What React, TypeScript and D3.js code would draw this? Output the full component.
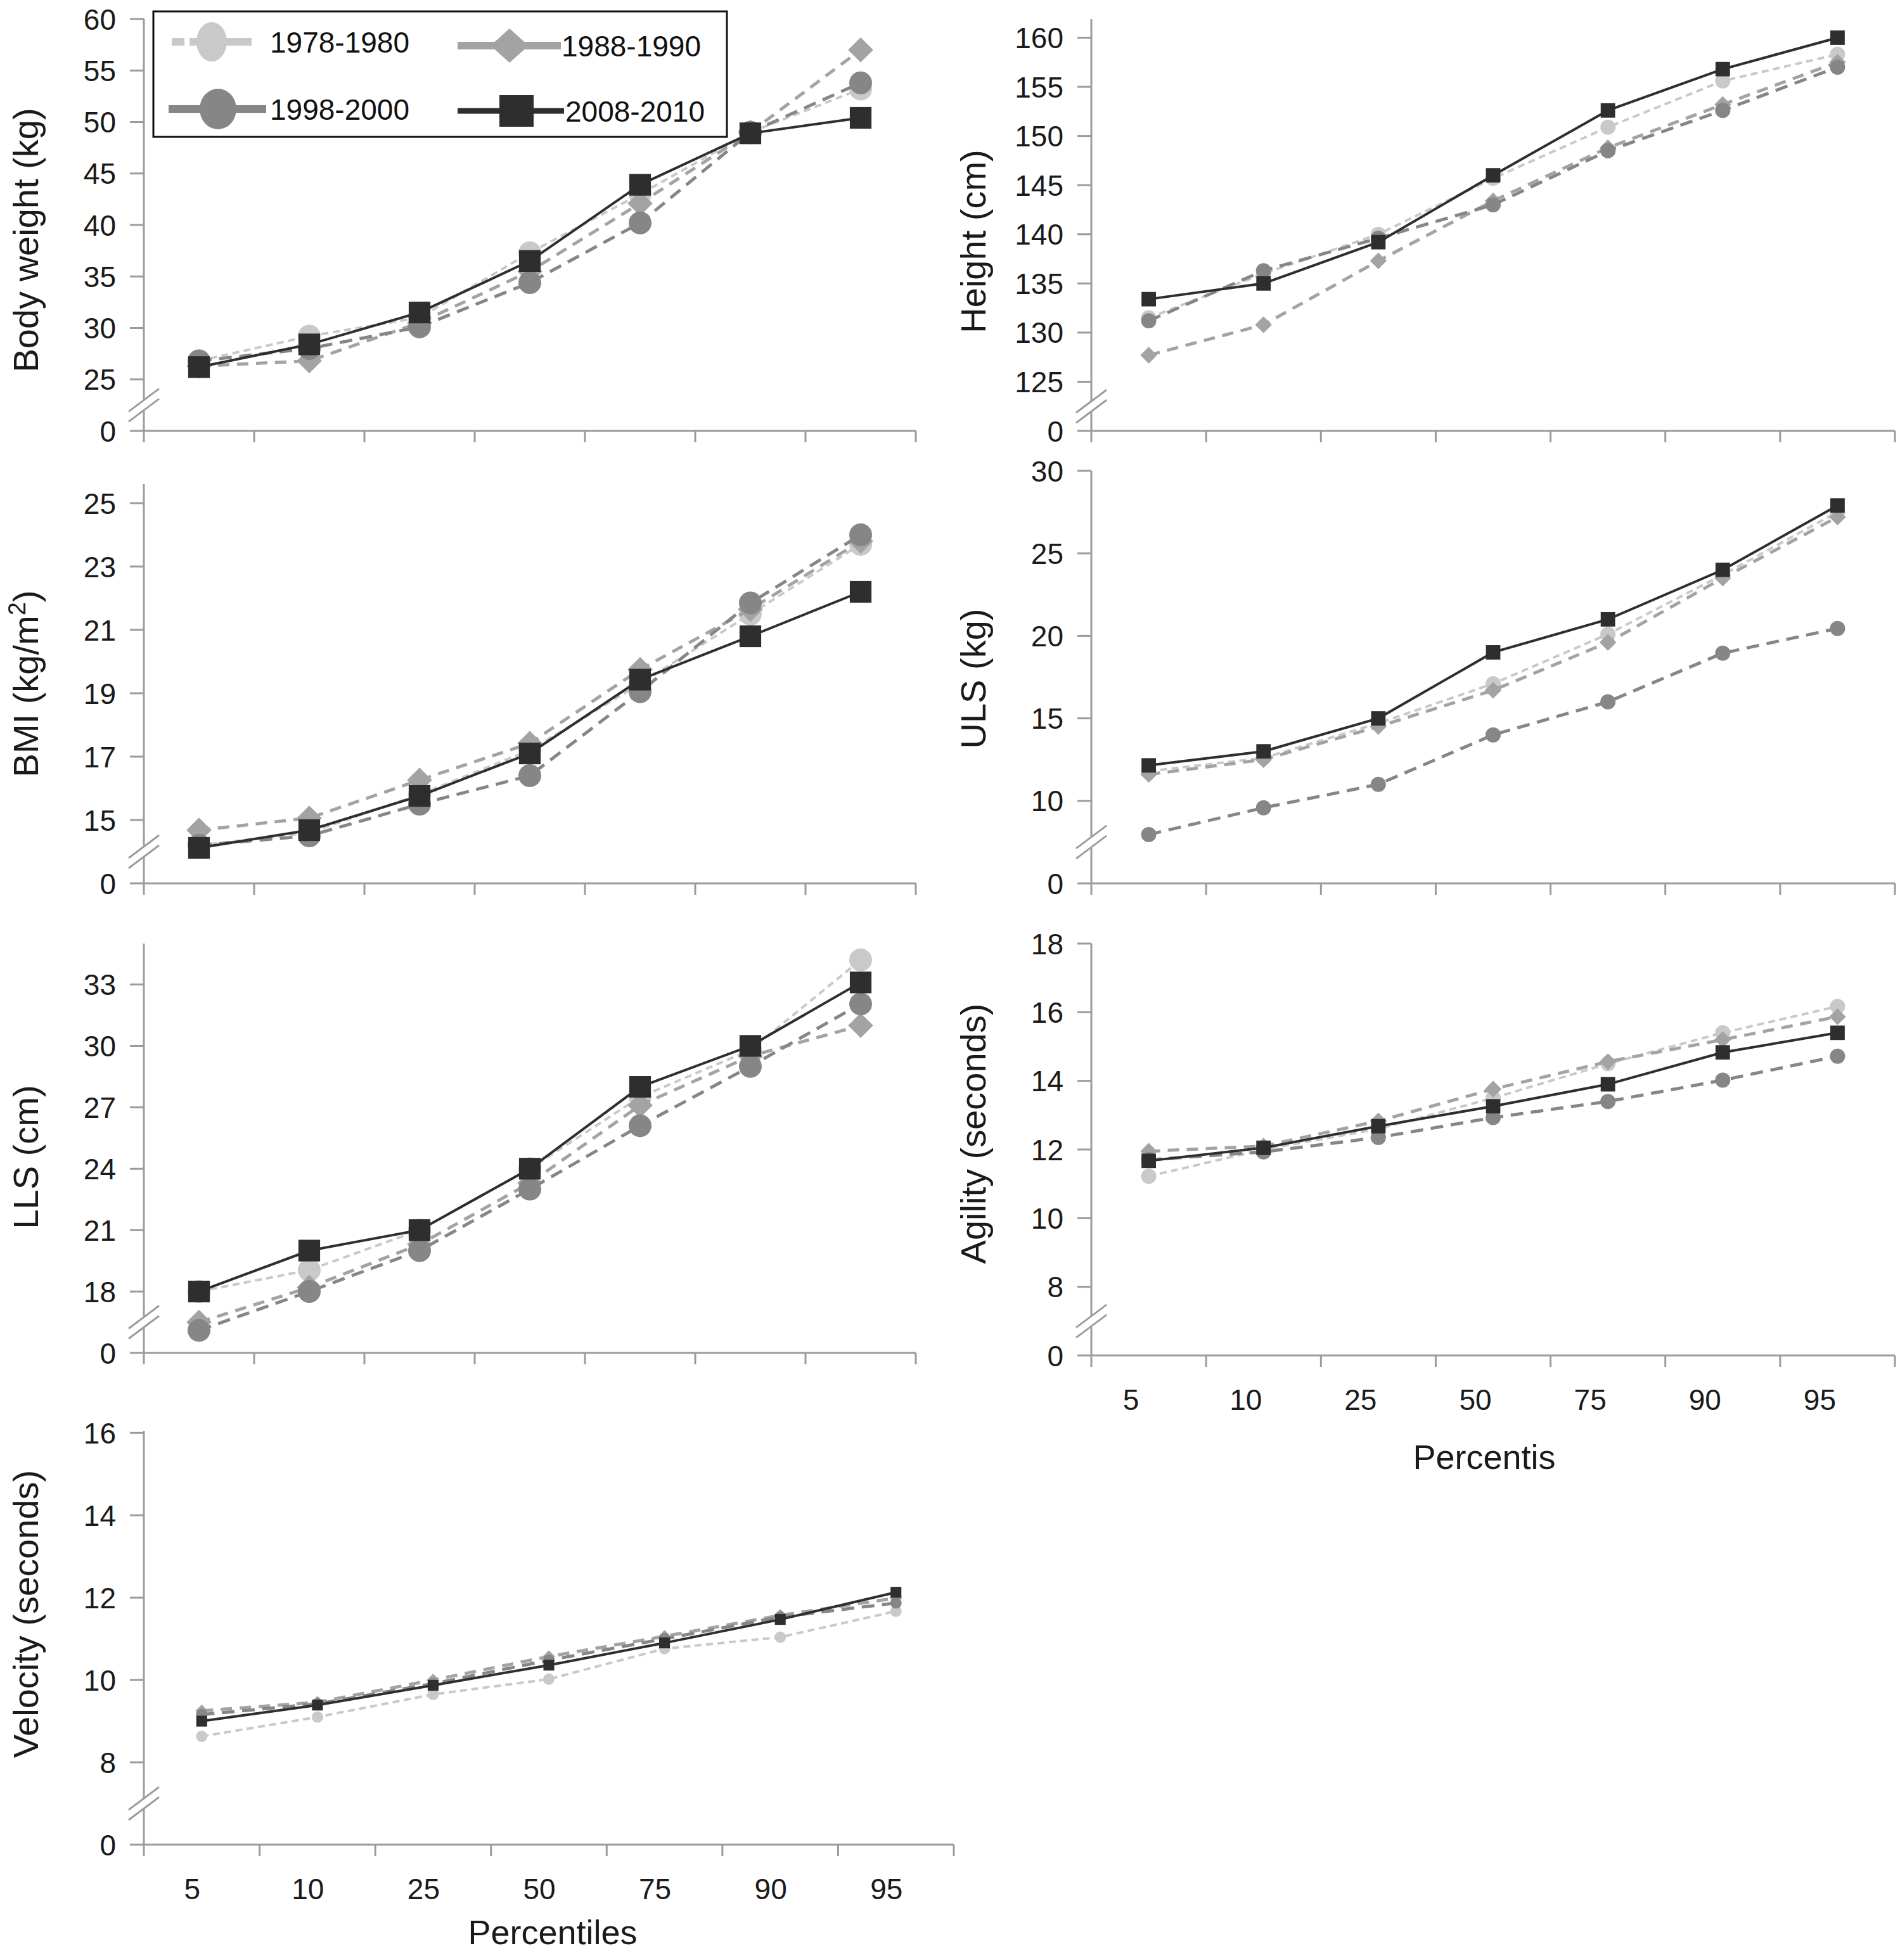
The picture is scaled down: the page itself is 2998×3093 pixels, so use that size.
import React from "react";
import * as d3 from "d3";

// categories
const percentiles = ["5", "10", "25", "50", "75", "90", "95"];
const periods = ["1978-1980", "1988-1990", "1998-2000", "2008-2010"];

// series values, one row per period (1978, 1988, 1998, 2008)
const bodyWeight = [
  [26.8, 29.2, 31.0, 37.3, 43.0, 49.0, 53.2],
  [26.3, 26.8, 30.5, 35.5, 42.1, 49.0, 57.0],
  [26.8, 28.0, 30.1, 34.4, 40.2, 49.0, 53.8],
  [26.2, 28.4, 31.5, 36.5, 43.9, 48.9, 50.4],
];
const height = [
  [131.5, 136.0, 140.0, 145.7, 150.9, 155.6, 158.3],
  [127.7, 130.8, 137.3, 143.4, 148.8, 153.2, 157.5],
  [131.2, 136.3, 139.6, 143.0, 148.5, 152.6, 157.0],
  [133.4, 135.0, 139.2, 146.0, 152.6, 156.8, 160.0],
];
const bmi = [
  [14.2, 14.6, 15.8, 17.2, 19.3, 21.5, 23.7],
  [14.68, 15.06, 16.26, 17.42, 19.75, 21.65, 23.8],
  [14.2, 14.5, 15.5, 16.4, 19.05, 21.85, 24.0],
  [14.12, 14.68, 15.76, 17.1, 19.43, 20.8, 22.2],
];
const uls = [
  [11.8, 12.6, 14.7, 17.1, 20.1, 23.7, 27.5],
  [11.6, 12.5, 14.5, 16.7, 19.6, 23.5, 27.2],
  [7.96, 9.58, 11.0, 14.0, 16.0, 18.95, 20.45],
  [12.15, 13.0, 15.0, 19.0, 21.0, 24.0, 27.9],
];
const lls = [
  [18.0, 19.05, 21.0, 24.0, 27.5, 29.8, 34.2],
  [16.5, 18.2, 20.3, 23.3, 27.1, 29.5, 31.0],
  [16.1, 18.0, 20.0, 23.0, 26.1, 29.0, 32.05],
  [18.0, 20.0, 21.0, 24.0, 28.0, 30.0, 33.1],
];
const agility = [
  [11.22, 12.0, 12.6, 13.5, 14.5, 15.4, 16.17],
  [11.95, 12.1, 12.83, 13.76, 14.56, 15.2, 15.87],
  [11.7, 11.93, 12.35, 12.93, 13.4, 14.02, 14.72],
  [11.67, 12.05, 12.68, 13.26, 13.9, 14.83, 15.4],
];
const velocity = [
  [8.63, 9.1, 9.65, 10.02, 10.76, 11.04, 11.67],
  [9.25, 9.46, 10.0, 10.57, 11.06, 11.57, 11.99],
  [9.16, 9.42, 9.91, 10.48, 11.0, 11.53, 11.87],
  [9.0, 9.39, 9.87, 10.36, 10.9, 11.47, 12.13],
];

const W = 2998;
const H = 3093;
const FONT = "'Liberation Sans', Arial, Helvetica, sans-serif";
const AXIS = "#9b9b9b";

const styles = [
  { color: "#c9c9c9", dash: "11,7", width: 4, shape: "circle" },
  { color: "#a3a3a3", dash: "18,12", width: 5, shape: "diamond" },
  { color: "#868686", dash: "20,12", width: 5, shape: "circle" },
  { color: "#2e2e2e", dash: null, width: 4, shape: "square" },
];

// panel layout; lo = value drawn at the "0" tick (one step under the first tick)
const panels: any[] = [
  { title: "Body weight (kg)", data: bodyWeight, x0: 227, x1: 1445, top: 30, zero: 680, lo: 20, hi: 60, first: 25, step: 5, m: 18, ty: 379 },
  { title: "Height (cm)", data: height, x0: 1722, x1: 2990, top: 30, zero: 680, lo: 120, hi: 161.9, first: 125, step: 5, m: 12, ty: 381 },
  { title: "BMI", data: bmi, x0: 227, x1: 1445, top: 764, zero: 1394, lo: 13, hi: 25.6, first: 15, step: 2, m: 18, ty: 1079, bmi: true },
  { title: "ULS (kg)", data: uls, x0: 1722, x1: 2990, top: 743, zero: 1394, lo: 5, hi: 30, first: 10, step: 5, m: 12, ty: 1071 },
  { title: "LLS (cm)", data: lls, x0: 227, x1: 1445, top: 1489, zero: 2135, lo: 15, hi: 35, first: 18, step: 3, m: 18, ty: 1826 },
  { title: "Agility (seconds)", data: agility, x0: 1722, x1: 2990, top: 1489, zero: 2139, lo: 6, hi: 18, first: 8, step: 2, m: 12, ty: 1789, xlab: "Percentis", lshift: -28, xtx: 2342, xty: 2318 },
  { title: "Velocity (seconds)", data: velocity, x0: 227, x1: 1505, top: 2258, zero: 2911, lo: 6, hi: 16.05, first: 8, step: 2, m: 9, ty: 2547, xlab: "Percentiles", lshift: -15, xtx: 872, xty: 3068 },
];

function Marker({ shape, x, y, r, color }: any) {
  if (shape === "circle") return <circle cx={x} cy={y} r={r} fill={color} />;
  if (shape === "square")
    return <rect x={x - r} y={y - r} width={2 * r} height={2 * r} fill={color} />;
  const d = r * 1.1;
  return <polygon points={`${x},${y - d} ${x + d},${y} ${x},${y + d} ${x - d},${y}`} fill={color} />;
}

function Panel({ p }: any) {
  const x = d3.scaleBand().domain(percentiles).range([p.x0, p.x1]);
  const y = d3.scaleLinear().domain([p.lo, p.hi]).range([p.zero, p.top]);
  const ticks = d3.range(p.first, p.hi + 1e-6, p.step);
  const edges = percentiles.map((c) => x(c) as number).concat([p.x1]);
  const line = d3
    .line<number>()
    .x((_, i) => (x(percentiles[i]) as number) + x.bandwidth() / 2)
    .y((v) => y(v));
  const breakY = (y(p.lo) + y(p.first)) / 2;
  const tx = p.x0 - 167;

  return (
    <g>
      {/* axes */}
      <line x1={p.x0} x2={p.x0} y1={p.top} y2={p.zero} stroke={AXIS} strokeWidth={3} />
      <line x1={p.x0 - 22} x2={p.x1} y1={p.zero} y2={p.zero} stroke={AXIS} strokeWidth={3} />
      {edges.map((e, i) => (
        <line key={i} x1={e} x2={e} y1={p.zero} y2={p.zero + 18} stroke={AXIS} strokeWidth={3} />
      ))}
      {ticks.map((t: number) => (
        <g key={t}>
          <line x1={p.x0 - 22} x2={p.x0} y1={y(t)} y2={y(t)} stroke={AXIS} strokeWidth={3} />
          <text x={p.x0 - 44} y={y(t)} dy="0.36em" textAnchor="end" fontSize={46} fill="#1a1a1a">
            {t}
          </text>
        </g>
      ))}
      <text x={p.x0 - 44} y={y(p.lo)} dy="0.36em" textAnchor="end" fontSize={46} fill="#1a1a1a">
        0
      </text>
      {/* axis break */}
      <rect x={p.x0 - 4} y={breakY - 9} width={8} height={18} fill="#fff" />
      {[-8, 8].map((o) => (
        <line
          key={o}
          x1={p.x0 - 24}
          y1={breakY + o + 18}
          x2={p.x0 + 24}
          y2={breakY + o - 18}
          stroke={AXIS}
          strokeWidth={3}
        />
      ))}
      {/* y title */}
      <text
        transform={`translate(${tx},${p.ty}) rotate(-90)`}
        textAnchor="middle"
        fontSize={56}
        fill="#1a1a1a"
      >
        {p.bmi ? (
          <>
            BMI (kg/m
            <tspan fontSize={38} dy={-20}>
              2
            </tspan>
            <tspan dy={20}>)</tspan>
          </>
        ) : (
          p.title
        )}
      </text>
      {/* series */}
      {p.data.map((vals: number[], si: number) => {
        const s = styles[si];
        return (
          <g key={si}>
            <path
              d={line(vals) as string}
              fill="none"
              stroke={s.color}
              strokeWidth={s.width}
              strokeDasharray={s.dash || undefined}
            />
            {vals.map((v, i) => (
              <Marker
                key={i}
                shape={s.shape}
                x={(x(percentiles[i]) as number) + x.bandwidth() / 2}
                y={y(v)}
                r={s.shape === "square" ? p.m * 0.95 : p.m}
                color={s.color}
              />
            ))}
          </g>
        );
      })}
      {p.xlab && (
        <g>
          {percentiles.map((c) => (
            <text
              key={c}
              x={(x(c) as number) + x.bandwidth() / 2 + p.lshift}
              y={p.zero + 86}
              textAnchor="middle"
              fontSize={46}
              fill="#1a1a1a"
            >
              {c}
            </text>
          ))}
          <text x={p.xtx} y={p.xty} textAnchor="middle" fontSize={54} fill="#1a1a1a">
            {p.xlab}
          </text>
        </g>
      )}
    </g>
  );
}

function Legend() {
  const items = [
    { cx: 334, cy: 66, l0: 271, l1: 397, tx: 426, w: 24, h: 31 },
    { cx: 804, cy: 72, l0: 722, l1: 885, tx: 886, w: 30, h: 27 },
    { cx: 344, cy: 172, l0: 266, l1: 420, tx: 426, w: 29, h: 32 },
    { cx: 815, cy: 175, l0: 722, l1: 890, tx: 892, w: 27, h: 25 },
  ];
  return (
    <g>
      <rect x={242} y={18} width={905} height={198} fill="#fff" stroke="#111" strokeWidth={3} />
      {items.map((it, i) => {
        const s = styles[i];
        return (
          <g key={i}>
            <line
              x1={it.l0}
              x2={it.l1}
              y1={it.cy}
              y2={it.cy}
              stroke={s.color}
              strokeWidth={i === 3 ? 9 : 12}
              strokeDasharray={i === 0 ? "20,8,200" : undefined}
            />
            {s.shape === "circle" && <ellipse cx={it.cx} cy={it.cy} rx={it.w} ry={it.h} fill={s.color} />}
            {s.shape === "square" && (
              <rect x={it.cx - it.w} y={it.cy - it.h} width={2 * it.w} height={2 * it.h} fill={s.color} />
            )}
            {s.shape === "diamond" && (
              <polygon
                points={`${it.cx},${it.cy - it.h} ${it.cx + it.w},${it.cy} ${it.cx},${it.cy + it.h} ${it.cx - it.w},${it.cy}`}
                fill={s.color}
              />
            )}
            <text x={it.tx} y={it.cy} dy="0.36em" fontSize={46} fill="#111">
              {periods[i]}
            </text>
          </g>
        );
      })}
    </g>
  );
}

export default function App() {
  return (
    <svg
      width={W}
      height={H}
      viewBox={`0 0 ${W} ${H}`}
      style={{ position: "absolute", left: 0, top: 0, background: "#fff" }}
      fontFamily={FONT}
    >
      <rect width={W} height={H} fill="#fff" />
      {panels.map((p, i) => (
        <Panel key={i} p={p} />
      ))}
      <Legend />
    </svg>
  );
}
